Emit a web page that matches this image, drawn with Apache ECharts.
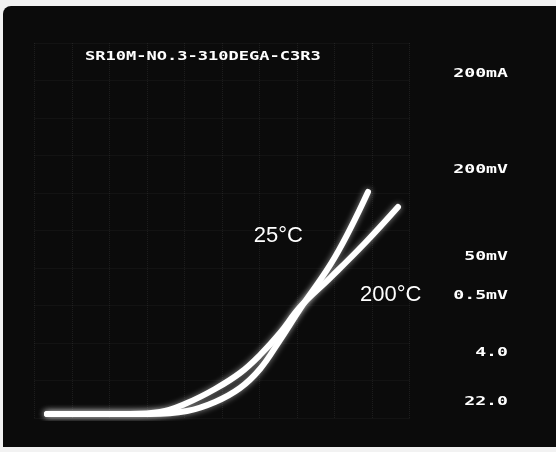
<!DOCTYPE html>
<html>
<head>
<meta charset="utf-8">
<style>
  html, body { margin: 0; padding: 0; background: #f2f2f2; }
  #chart { width: 556px; height: 452px; }
</style>
<script src="https://cdn.jsdelivr.net/npm/echarts@6/dist/echarts.min.js"></script>
</head>
<body>
<div id="chart"></div>
<script>
// Forward I-V traces on a 10 x 10 division graticule (x: volts/div, y: current/div)
const curve25 = [
  [0.333, 0.107], [3.08, 0.107], [4.067, 0.187], [4.813, 0.427], [5.48, 0.80],
  [6.013, 1.307], [6.547, 2.08], [7.08, 2.907], [8.013, 4.293], [8.893, 6.027]
];
const curve200 = [
  [0.333, 0.107], [2.547, 0.107], [3.347, 0.16], [4.067, 0.40], [4.813, 0.773],
  [5.48, 1.20], [6.013, 1.68], [6.547, 2.267], [7.08, 2.96], [7.88, 3.733],
  [8.813, 4.667], [9.693, 5.627]
];
const seriesNames = ['25°C', '200°C'];
const titleText = 'SR10M-NO.3-310DEGA-C3R3';
const readouts = ['200mA', '200mV', '50mV', '0.5mV', '4.0', '22.0'];

const chart = echarts.init(document.getElementById('chart'));

const glowText = {
  fill: '#ffffff',
  font: 'bold 13px "DejaVu Sans Mono"',
  shadowBlur: 3,
  shadowColor: 'rgba(255,255,255,0.9)'
};

const readoutY = [74, 170, 257, 296, 353, 402];
const readoutGraphics = readouts.map((t, i) => ({
  type: 'text',
  x: 508,
  y: readoutY[i],
  scaleX: 1.4,
  z: 5,
  style: Object.assign({ text: t, textAlign: 'right', textVerticalAlign: 'middle' }, glowText)
}));

const lineStyle = {
  color: '#ffffff',
  width: 6,
  cap: 'round',
  join: 'round',
  shadowBlur: 6,
  shadowColor: 'rgba(255,255,255,0.55)'
};

const gridLine = { show: true, lineStyle: { color: 'rgba(210,210,210,0.09)', type: 'dotted', width: 1 } };

chart.setOption({
  backgroundColor: '#f2f2f2',
  animation: false,
  graphic: [
    {
      type: 'rect',
      z: -10,
      shape: { x: 3, y: 6, width: 553, height: 441, r: [8, 0, 0, 0] },
      style: { fill: '#0b0b0b' }
    },
    {
      type: 'text',
      x: 85,
      y: 57,
      scaleX: 1.31,
      z: 5,
      style: Object.assign({ text: titleText, textVerticalAlign: 'middle' }, glowText)
    }
  ].concat(readoutGraphics),
  grid: { left: 34.5, top: 43, width: 375, height: 375 },
  xAxis: {
    type: 'value', min: 0, max: 10, interval: 1,
    axisLine: { show: false }, axisTick: { show: false }, axisLabel: { show: false },
    splitLine: gridLine
  },
  yAxis: {
    type: 'value', min: 0, max: 10, interval: 1,
    axisLine: { show: false }, axisTick: { show: false }, axisLabel: { show: false },
    splitLine: gridLine
  },
  series: [
    {
      name: seriesNames[0], type: 'line', data: curve25, smooth: 0.4,
      showSymbol: false, lineStyle: lineStyle,
      markPoint: {
        symbol: 'rect', symbolSize: 0,
        data: [{ coord: [6.5, 4.85], value: seriesNames[0] }],
        label: { show: true, formatter: '{@value}', color: '#ffffff', fontSize: 22, fontFamily: 'Liberation Sans', position: 'inside' }
      }
    },
    {
      name: seriesNames[1], type: 'line', data: curve200, smooth: 0.4,
      showSymbol: false, lineStyle: lineStyle,
      markPoint: {
        symbol: 'rect', symbolSize: 0,
        data: [{ coord: [9.5, 3.27], value: seriesNames[1] }],
        label: { show: true, formatter: '{@value}', color: '#ffffff', fontSize: 22, fontFamily: 'Liberation Sans', position: 'inside' }
      }
    }
  ]
});
</script>
</body>
</html>
